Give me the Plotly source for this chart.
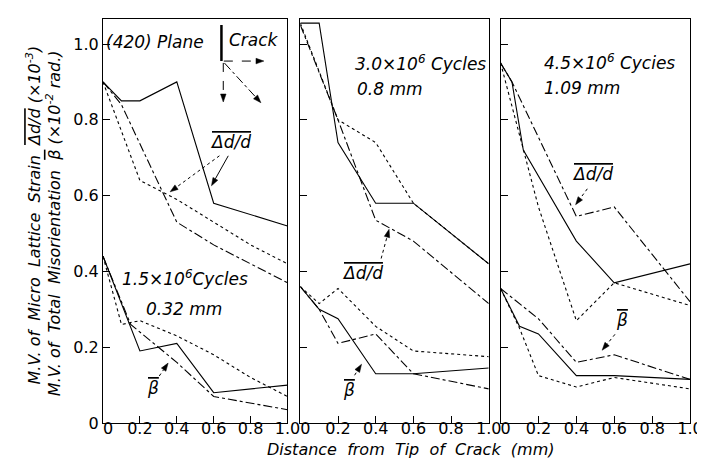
import plotly.graph_objects as go

# ---------------- data ----------------
# Panel 1 : 1.5x10^6 cycles
p1_dd_solid_x = [0, 0.1, 0.2, 0.4, 0.6, 1.0]
p1_dd_solid_y = [0.90, 0.85, 0.85, 0.90, 0.58, 0.52]
p1_dd_dashdot_x = [0, 0.1, 0.4, 0.6, 1.0]
p1_dd_dashdot_y = [0.90, 0.84, 0.53, 0.47, 0.37]
p1_dd_dot_x = [0, 0.2, 0.4, 0.6, 0.8, 1.0]
p1_dd_dot_y = [0.90, 0.64, 0.59, 0.53, 0.47, 0.42]
p1_b_solid_x = [0, 0.2, 0.4, 0.6, 1.0]
p1_b_solid_y = [0.44, 0.19, 0.21, 0.08, 0.10]
p1_b_dashdot_x = [0, 0.15, 0.4, 0.6, 1.0]
p1_b_dashdot_y = [0.44, 0.26, 0.16, 0.07, 0.035]
p1_b_dot_x = [0, 0.1, 0.2, 0.4, 0.6, 0.8, 1.0]
p1_b_dot_y = [0.44, 0.26, 0.27, 0.23, 0.18, 0.12, 0.07]

# Panel 2 : 3.0x10^6 cycles
p2_dd_solid_x = [0, 0.1, 0.2, 0.4, 0.6, 1.0]
p2_dd_solid_y = [1.055, 1.055, 0.74, 0.58, 0.58, 0.42]
p2_dd_dashdot_x = [0, 0.2, 0.4, 0.6, 1.0]
p2_dd_dashdot_y = [1.05, 0.80, 0.535, 0.48, 0.315]
p2_dd_dot_x = [0, 0.2, 0.4, 0.6, 1.0]
p2_dd_dot_y = [1.055, 0.80, 0.74, 0.58, 0.42]
p2_b_solid_x = [0, 0.1, 0.2, 0.4, 0.6, 1.0]
p2_b_solid_y = [0.36, 0.30, 0.275, 0.13, 0.13, 0.145]
p2_b_dashdot_x = [0, 0.1, 0.2, 0.4, 0.6, 1.0]
p2_b_dashdot_y = [0.36, 0.30, 0.21, 0.235, 0.13, 0.09]
p2_b_dot_x = [0, 0.1, 0.2, 0.4, 0.6, 1.0]
p2_b_dot_y = [0.36, 0.315, 0.355, 0.255, 0.19, 0.175]

# Panel 3 : 4.5x10^6 cycles
p3_dd_solid_x = [0, 0.06, 0.12, 0.4, 0.6, 1.0]
p3_dd_solid_y = [0.95, 0.90, 0.72, 0.48, 0.37, 0.42]
p3_dd_dashdot_x = [0, 0.06, 0.4, 0.6, 1.0]
p3_dd_dashdot_y = [0.95, 0.90, 0.545, 0.57, 0.32]
p3_dd_dot_x = [0, 0.1, 0.2, 0.4, 0.6, 1.0]
p3_dd_dot_y = [0.95, 0.76, 0.57, 0.27, 0.37, 0.31]
p3_b_solid_x = [0, 0.1, 0.2, 0.4, 0.6, 1.0]
p3_b_solid_y = [0.355, 0.255, 0.235, 0.125, 0.125, 0.115]
p3_b_dashdot_x = [0, 0.2, 0.4, 0.6, 1.0]
p3_b_dashdot_y = [0.355, 0.275, 0.16, 0.18, 0.115]
p3_b_dot_x = [0, 0.1, 0.2, 0.4, 0.6, 1.0]
p3_b_dot_y = [0.355, 0.25, 0.125, 0.095, 0.12, 0.09]

tick_vals = [0, 0.2, 0.4, 0.6, 0.8, 1.0]
x_tick_text = ["\u20070", "0.2", "0.4", "0.6", "0.8", "1.0"]
y_tick_text = ["0", "0.2", "0.4", "0.6", "0.8", "1.0"]

panel_labels = [["1.5×10<sup>6</sup>Cycles", "0.32 mm"],
                ["3.0×10<sup>6</sup> Cycles", "0.8 mm"],
                ["4.5×10<sup>6</sup> Cycies", "1.09 mm"]]

OV = "<span style='text-decoration:overline'>{}</span>"
DD = OV.format("\u0394d/d")     # overlined Δd/d
BETA = OV.format("\u03b2")      # overlined β

# ---------------- figure ----------------
W, H = 705, 463
ML, MR, MT, MB = 95, 15, 10, 48
PW, PH = W - ML - MR, H - MT - MB
YMAX = 1.066
domains = [[0, 187 / PW], [200 / PW, 391 / PW], [403 / PW, 1.0]]

fig = go.Figure()

series = [
    (1, p1_dd_solid_x, p1_dd_solid_y, "solid"), (1, p1_dd_dashdot_x, p1_dd_dashdot_y, "dashdot"),
    (1, p1_dd_dot_x, p1_dd_dot_y, "dot"), (1, p1_b_solid_x, p1_b_solid_y, "solid"),
    (1, p1_b_dashdot_x, p1_b_dashdot_y, "dashdot"), (1, p1_b_dot_x, p1_b_dot_y, "dot"),
    (2, p2_dd_solid_x, p2_dd_solid_y, "solid"), (2, p2_dd_dashdot_x, p2_dd_dashdot_y, "dashdot"),
    (2, p2_dd_dot_x, p2_dd_dot_y, "dot"), (2, p2_b_solid_x, p2_b_solid_y, "solid"),
    (2, p2_b_dashdot_x, p2_b_dashdot_y, "dashdot"), (2, p2_b_dot_x, p2_b_dot_y, "dot"),
    (3, p3_dd_solid_x, p3_dd_solid_y, "solid"), (3, p3_dd_dashdot_x, p3_dd_dashdot_y, "dashdot"),
    (3, p3_dd_dot_x, p3_dd_dot_y, "dot"), (3, p3_b_solid_x, p3_b_solid_y, "solid"),
    (3, p3_b_dashdot_x, p3_b_dashdot_y, "dashdot"), (3, p3_b_dot_x, p3_b_dot_y, "dot"),
]
for k, xs, ys, dash in series:
    sfx = "" if k == 1 else str(k)
    fig.add_trace(go.Scatter(x=xs, y=ys, mode="lines",
                             line=dict(color="black", width=1.1, dash=dash),
                             xaxis="x" + sfx, yaxis="y" + sfx,
                             hoverinfo="skip", showlegend=False))

tickfont = dict(family="DejaVu Sans", size=16, color="black")
for i in range(3):
    sfx = "" if i == 0 else str(i + 1)
    fig.update_layout(**{
        "xaxis" + sfx: dict(domain=domains[i], range=[0, 1.0], anchor="y" + sfx,
                            tickvals=tick_vals, ticktext=x_tick_text, ticks="inside",
                            ticklen=7, tickcolor="black", showline=True, mirror=True,
                            linecolor="black", linewidth=1.2, showgrid=False,
                            zeroline=False, tickfont=tickfont, ticklabelstandoff=-9),
        "yaxis" + sfx: dict(domain=[0, 1], range=[0, YMAX], anchor="x" + sfx,
                            tickvals=tick_vals, ticktext=y_tick_text, ticks="inside",
                            ticklen=7, tickcolor="black", showline=True, mirror=True,
                            linecolor="black", linewidth=1.2, showgrid=False,
                            zeroline=False, tickfont=tickfont,
                            showticklabels=(i == 0)),
    })

afont = dict(family="DejaVu Sans", size=17, color="black", style="italic")

def pix_scale(i):
    return (domains[i][1] - domains[i][0]) * PW, PH / YMAX

def txt(i, x, y, text, xanchor="left", size=17):
    sfx = "" if i == 0 else str(i + 1)
    f = dict(afont); f["size"] = size
    fig.add_annotation(x=x, y=y, xref="x" + sfx, yref="y" + sfx, text=text,
                       showarrow=False, xanchor=xanchor, yanchor="middle", font=f,
                       borderpad=0)

def arrow(i, tail, head, dash="dot", width=1):
    sfx = "" if i == 0 else str(i + 1)
    sx, sy = pix_scale(i)
    # direction in pixels (y up)
    dx = (head[0] - tail[0]) * sx
    dy = (head[1] - tail[1]) * sy
    ln = (dx * dx + dy * dy) ** 0.5
    ux, uy = dx / ln, dy / ln
    L, Wd = 8.0, 2.8
    bx, by = -ux * L, -uy * L            # base centre offset (px)
    px_, py_ = -uy * Wd, ux * Wd         # perpendicular (px)
    pts = [(0, 0), (bx + px_, by + py_), (bx - px_, by - py_)]
    pts = [(head[0] + a / sx, head[1] + b / sy) for a, b in pts]
    base = (head[0] + bx / sx, head[1] + by / sy)
    fig.add_shape(type="line", xref="x" + sfx, yref="y" + sfx,
                  x0=tail[0], y0=tail[1], x1=base[0], y1=base[1],
                  line=dict(color="black", width=width, dash=dash))
    path = "M {} {} L {} {} L {} {} Z".format(*[c for p in pts for c in p])
    fig.add_shape(type="path", xref="x" + sfx, yref="y" + sfx, path=path,
                  fillcolor="black", line=dict(color="black", width=0.5))

# panel texts
txt(0, 0.01, 1.005, "(420) Plane")
txt(0, 0.68, 1.01, "Crack")
txt(0, 0.10, 0.382, panel_labels[0][0])
txt(0, 0.225, 0.30, panel_labels[0][1])
txt(1, 0.285, 0.95, panel_labels[1][0])
txt(1, 0.295, 0.882, panel_labels[1][1])
txt(2, 0.225, 0.953, panel_labels[2][0])
txt(2, 0.225, 0.884, panel_labels[2][1])

# curve labels
txt(0, 0.69, 0.742, DD, xanchor="center")
txt(1, 0.33, 0.397, DD, xanchor="center")
txt(2, 0.484, 0.658, DD, xanchor="center")
txt(0, 0.273, 0.092, BETA, xanchor="center")
txt(1, 0.257, 0.087, BETA, xanchor="center")
txt(2, 0.64, 0.271, BETA, xanchor="center")

arrow(0, (0.631, 0.705), (0.364, 0.61))
arrow(0, (0.679, 0.705), (0.588, 0.626), dash="solid")
arrow(0, (0.305, 0.124), (0.353, 0.158))
arrow(1, (0.429, 0.434), (0.471, 0.511))
arrow(1, (0.288, 0.126), (0.325, 0.155))
arrow(2, (0.458, 0.618), (0.396, 0.576))
arrow(2, (0.604, 0.234), (0.536, 0.192))

# crack direction symbol
fig.add_shape(type="line", xref="x", yref="y", x0=0.642, y0=1.05, x1=0.642, y1=0.955,
              line=dict(color="black", width=2.5))
arrow(0, (0.655, 0.955), (0.872, 0.955), dash="dash")
arrow(0, (0.652, 0.95), (0.652, 0.847), dash="dash")
arrow(0, (0.658, 0.95), (0.856, 0.845), dash="dashdot")

# axis titles
tfont = dict(family="DejaVu Sans", size=16, color="black", style="italic")
fig.add_annotation(x=(25 - ML) / PW, y=(415 - 206) / PH, xref="paper", yref="paper",
                   text="M.V. of  Micro  Lattice  Strain  " + DD + " (×10<sup>-3</sup>)",
                   textangle=-90, showarrow=False, xanchor="center", yanchor="middle",
                   font=tfont)
fig.add_annotation(x=(45 - ML) / PW, y=(415 - 215) / PH, xref="paper", yref="paper",
                   text="M.V. of  Total  Misorientation  " + BETA + " (×10<sup>-2</sup> rad.)",
                   textangle=-90, showarrow=False, xanchor="center", yanchor="middle",
                   font=tfont)
fig.add_annotation(x=(407 - ML) / PW, y=(415 - 442) / PH, xref="paper", yref="paper",
                   text="Distance  from  Tip  of  Crack  (mm)", showarrow=False,
                   xanchor="center", yanchor="middle", font=tfont)

fig.update_layout(width=W, height=H, margin=dict(l=ML, r=MR, t=MT, b=MB),
                  paper_bgcolor="white", plot_bgcolor="white", showlegend=False)

fig.write_html("out.html")
